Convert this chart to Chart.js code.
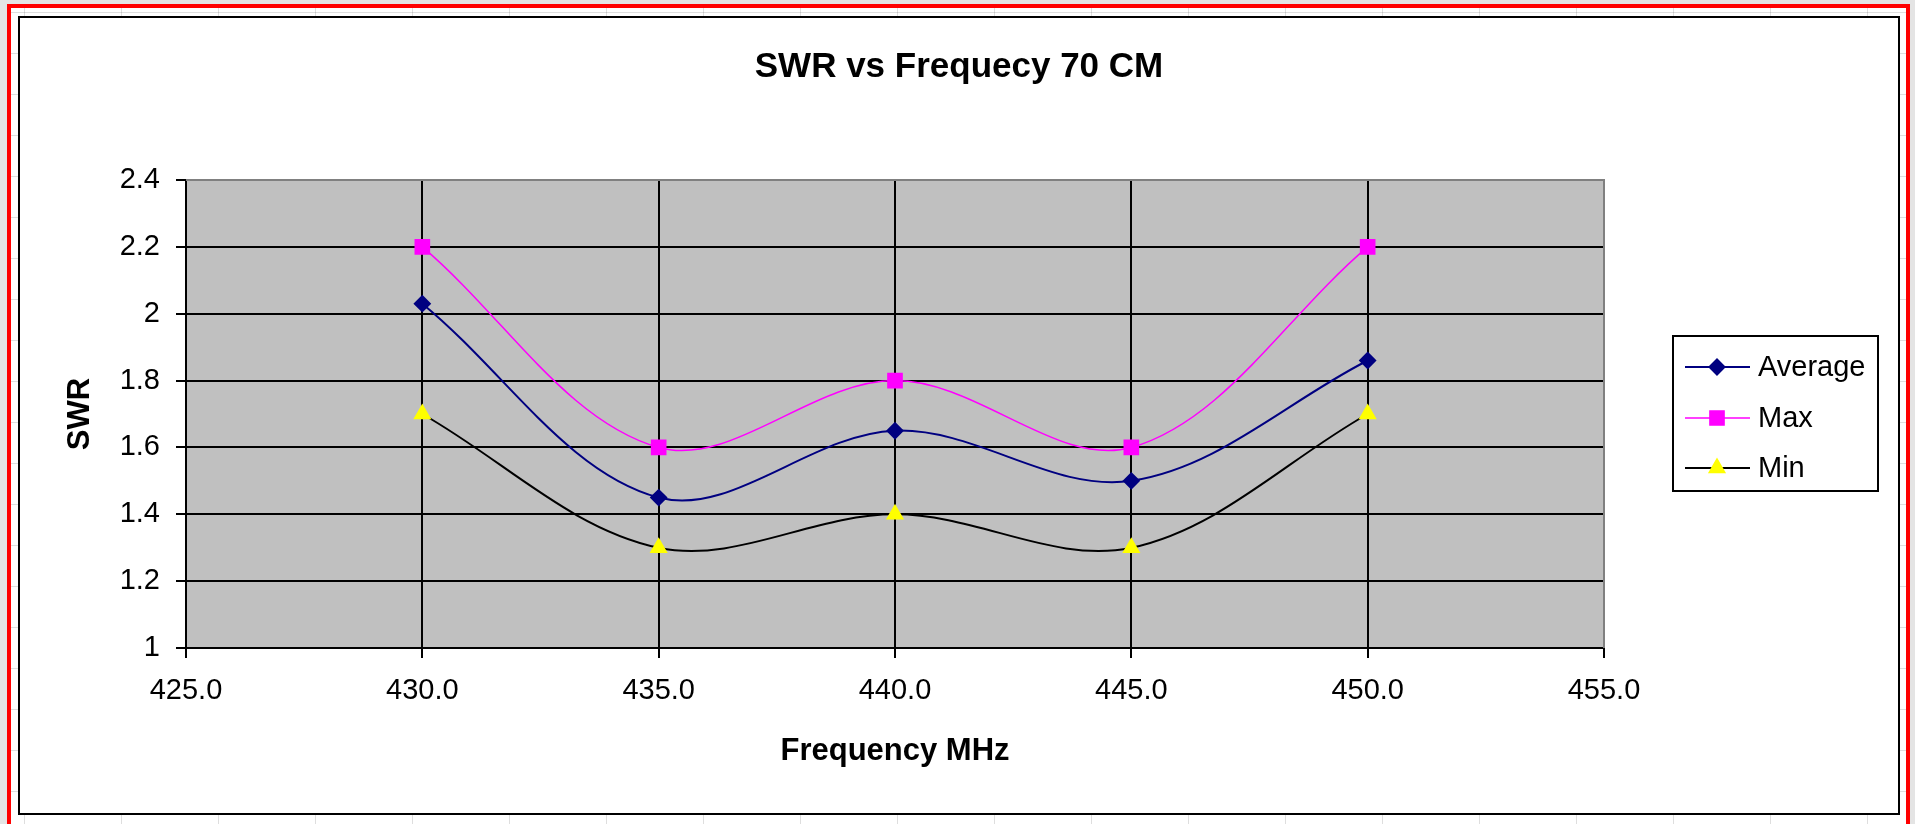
<!DOCTYPE html>
<html><head><meta charset="utf-8">
<script src="https://cdn.jsdelivr.net/npm/chart.js@4.4.0/dist/chart.umd.min.js"></script>
<style>
html,body{margin:0;padding:0;width:1915px;height:824px;overflow:hidden;background:#e4e4e4;}
#red{position:absolute;left:7px;top:4px;width:1903px;height:840px;box-sizing:border-box;border:4px solid #f00;
 background-color:#fff;
 background-image:linear-gradient(to right, rgba(0,0,0,0.13) 1px, transparent 1px), linear-gradient(to bottom, rgba(0,0,0,0.13) 1px, transparent 1px);
 background-size:97px 41px;background-position:13px 4px;}
#box{position:absolute;left:18px;top:16px;width:1882px;height:799px;box-sizing:border-box;border:2px solid #000;background:#fff;}
canvas{display:block;}
</style></head>
<body>
<div id="red"></div>
<div id="box"><canvas id="c" width="1878" height="795"></canvas></div>
<script>
const chartTitle = 'SWR vs Frequecy 70 CM';
const xAxisTitle = 'Frequency MHz';
const yAxisTitle = 'SWR';
const freqMHz = [430, 435, 440, 445, 450];
const swrAverage = [2.03, 1.45, 1.65, 1.50, 1.86];
const swrMax = [2.2, 1.6, 1.8, 1.6, 2.2];
const swrMin = [1.7, 1.3, 1.4, 1.3, 1.7];
const xTickLabels = ['425.0','430.0','435.0','440.0','445.0','450.0','455.0'];
const yTickLabels = ['1','1.2','1.4','1.6','1.8','2','2.2','2.4'];
const seriesNames = ['Average','Max','Min'];

const FONT = "'Liberation Sans', Arial, sans-serif";
const pts = vals => freqMHz.map((f,i)=>({x:f, y:vals[i]}));

const decor = {
  id:'decor',
  beforeDraw(chart){
    const {ctx, chartArea:a} = chart;
    ctx.save();
    ctx.fillStyle = '#c0c0c0';
    ctx.fillRect(a.left, a.top, a.right-a.left, a.bottom-a.top);
    ctx.restore();
  },
  beforeDatasetsDraw(chart){
    const {ctx, chartArea:a} = chart;
    ctx.save();
    ctx.strokeStyle = '#808080';
    ctx.lineWidth = 2;
    ctx.beginPath();
    ctx.moveTo(a.left, a.top); ctx.lineTo(a.right, a.top); ctx.lineTo(a.right, a.bottom);
    ctx.stroke();
    ctx.restore();
  },
  afterDraw(chart){
    const {ctx} = chart;
    ctx.save();
    ctx.fillStyle = '#000';
    ctx.font = "bold 35px " + FONT;
    ctx.textAlign = 'center';
    ctx.textBaseline = 'alphabetic';
    ctx.fillText(chartTitle, 939, 59);
    const bx = 1653, by = 318, bw = 205, bh = 155;
    ctx.fillStyle = '#fff';
    ctx.fillRect(bx, by, bw, bh);
    ctx.strokeStyle = '#000';
    ctx.lineWidth = 2;
    ctx.strokeRect(bx, by, bw, bh);
    const rows = [349, 400, 450];
    chart.data.datasets.forEach((ds, i) => {
      const y = rows[i];
      ctx.strokeStyle = ds.borderColor;
      ctx.lineWidth = ds.borderWidth;
      ctx.beginPath(); ctx.moveTo(1665, y); ctx.lineTo(1730, y); ctx.stroke();
      ctx.fillStyle = ds.pointBackgroundColor;
      ctx.strokeStyle = ds.pointBorderColor;
      Chart.helpers.drawPoint(ctx, {pointStyle: ds.pointStyle, radius: ds.pointRadius, rotation: 0, borderWidth: 1}, 1697, y);
      ctx.fillStyle = '#000';
      ctx.font = "29px " + FONT;
      ctx.textAlign = 'left';
      ctx.textBaseline = 'middle';
      ctx.fillText(ds.label, 1738, y + 1);
    });
    ctx.restore();
  }
};

new Chart(document.getElementById('c'), {
  type: 'line',
  data: {
    datasets: [
      {label: seriesNames[0], data: pts(swrAverage), borderColor:'#000080', borderWidth:2,
       pointStyle:'rectRot', pointRadius:7.5, pointBackgroundColor:'#000080', pointBorderColor:'#000080', tension:0.35},
      {label: seriesNames[1], data: pts(swrMax), borderColor:'#ff00ff', borderWidth:1.5,
       pointStyle:'rect', pointRadius:10, pointBackgroundColor:'#ff00ff', pointBorderColor:'#ff00ff', tension:0.35},
      {label: seriesNames[2], data: pts(swrMin), borderColor:'#000000', borderWidth:2,
       pointStyle:'triangle', pointRadius:8.5, pointBackgroundColor:'#ffff00', pointBorderColor:'#ffff00', tension:0.35}
    ]
  },
  options: {
    responsive:false, animation:false,
    layout:{padding:{top:162, right:294, bottom:0, left:0}},
    plugins:{legend:{display:false}, title:{display:false}, tooltip:{enabled:false}},
    scales:{
      x:{type:'linear', min:425, max:455,
        ticks:{stepSize:5, color:'#000', padding:16, font:{family:FONT, size:29},
          callback:(v,i)=>xTickLabels[i]},
        grid:{color:c=>(c.tick && Math.abs(c.tick.value-455)<1e-6)?'rgba(0,0,0,0)':'#000', tickColor:'#000', lineWidth:2, tickLength:10},
        border:{color:'#000', width:2},
        title:{display:true, text:xAxisTitle, color:'#000', font:{family:FONT, size:31, weight:'bold'}, padding:{top:0, bottom:43}},
        afterFit:s=>{s.height=165;}
      },
      y:{type:'linear', min:1, max:2.4,
        ticks:{stepSize:0.2, color:'#000', padding:16, font:{family:FONT, size:29},
          callback:(v,i)=>yTickLabels[i]},
        grid:{color:c=>(c.tick && Math.abs(c.tick.value-2.4)<1e-6)?'rgba(0,0,0,0)':'#000', tickColor:'#000', lineWidth:2, tickLength:10},
        border:{color:'#000', width:2},
        title:{display:true, text:yAxisTitle, color:'#000', font:{family:FONT, size:31, weight:'bold'}, padding:{top:42, bottom:0}},
        afterFit:s=>{s.width=166;}
      }
    }
  },
  plugins:[decor]
});
</script>
</body></html>
